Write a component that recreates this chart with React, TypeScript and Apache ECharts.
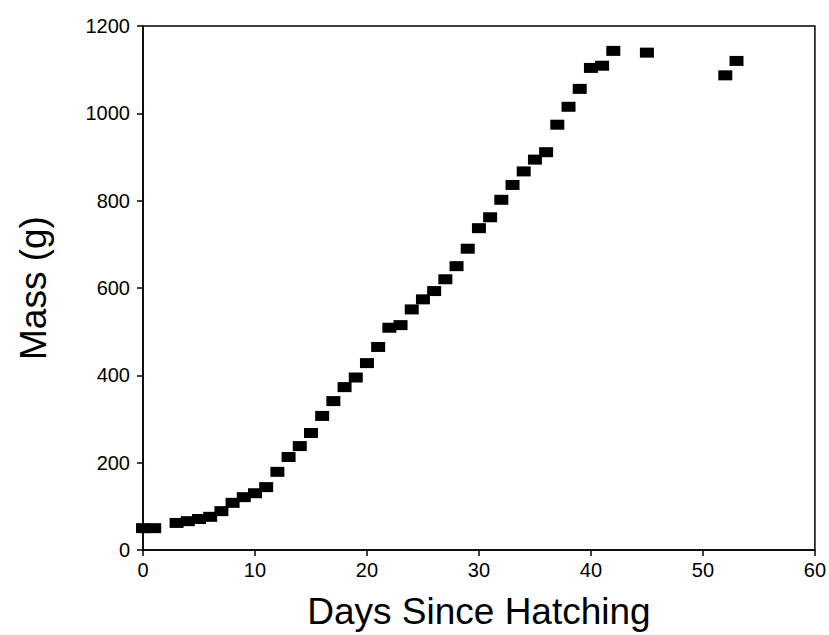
import React, { useEffect, useRef } from "react";
import * as echarts from "echarts";

const days: number[] = [0, 1, 3, 4, 5, 6, 7, 8, 9, 10, 11, 12, 13, 14, 15, 16, 17, 18, 19, 20, 21, 22, 23, 24, 25, 26, 27, 28, 29, 30, 31, 32, 33, 34, 35, 36, 37, 38, 39, 40, 41, 42, 45, 52, 53];
const mass: number[] = [50, 50, 62, 66, 71, 76, 89, 108, 121, 130, 144, 179, 213, 238, 268, 307, 341, 373, 395, 428, 465, 509, 515, 551, 574, 593, 620, 650, 690, 737, 762, 802, 836, 867, 894, 911, 974, 1015, 1056, 1104, 1109, 1143, 1139, 1087, 1120];

const xTicks: number[] = [0, 10, 20, 30, 40, 50, 60];
const yTicks: number[] = [0, 200, 400, 600, 800, 1000, 1200];

const xName = "Days Since Hatching";
const yName = "Mass (g)";

const FONT = "'Liberation Sans', Arial, Helvetica, sans-serif";

export default function App() {
  const ref = useRef<HTMLDivElement>(null);
  useEffect(() => {
    if (!ref.current) return;
    const chart = echarts.init(ref.current, undefined, { renderer: "svg" });
    const points = days.map((d, i) => [d, mass[i]]);
    chart.setOption({
      animation: false,
      backgroundColor: "#fff",
      textStyle: { fontFamily: FONT },
      grid: {
        left: 143,
        right: 13,
        top: 26,
        bottom: 84,
        show: true,
        borderColor: "#000",
        borderWidth: 1.5,
        backgroundColor: "transparent",
      },
      xAxis: {
        type: "value",
        min: xTicks[0],
        max: xTicks[xTicks.length - 1],
        interval: xTicks[1] - xTicks[0],
        name: xName,
        nameLocation: "middle",
        nameGap: 43,
        nameTextStyle: { fontSize: 37, color: "#000", fontFamily: FONT },
        axisLine: { show: true, lineStyle: { color: "#000", width: 1.5 } },
        axisTick: { show: true, length: 6, lineStyle: { color: "#000", width: 1.5 } },
        axisLabel: { fontSize: 20, color: "#000", margin: 10, fontFamily: FONT },
        splitLine: { show: false },
      },
      yAxis: {
        type: "value",
        min: yTicks[0],
        max: yTicks[yTicks.length - 1],
        interval: yTicks[1] - yTicks[0],
        name: yName,
        nameLocation: "middle",
        nameGap: 91,
        nameRotate: 90,
        nameTextStyle: { fontSize: 37, color: "#000", fontFamily: FONT },
        axisLine: { show: true, lineStyle: { color: "#000", width: 1.5 } },
        axisTick: { show: true, length: 6, lineStyle: { color: "#000", width: 1.5 } },
        axisLabel: {
          fontSize: 20,
          color: "#000",
          margin: 13,
          fontFamily: FONT,
          formatter: (v: number) => String(v),
        },
        splitLine: { show: false },
      },
      series: [
        {
          type: "scatter",
          data: points,
          symbol: "rect",
          symbolSize: [14, 10],
          itemStyle: { color: "#000", opacity: 1 },
          clip: false,
        },
      ],
    });
    return () => chart.dispose();
  }, []);
  return (
    <div
      ref={ref}
      style={{ position: "fixed", left: 0, top: 0, width: 829, height: 635, background: "#fff" }}
    />
  );
}
